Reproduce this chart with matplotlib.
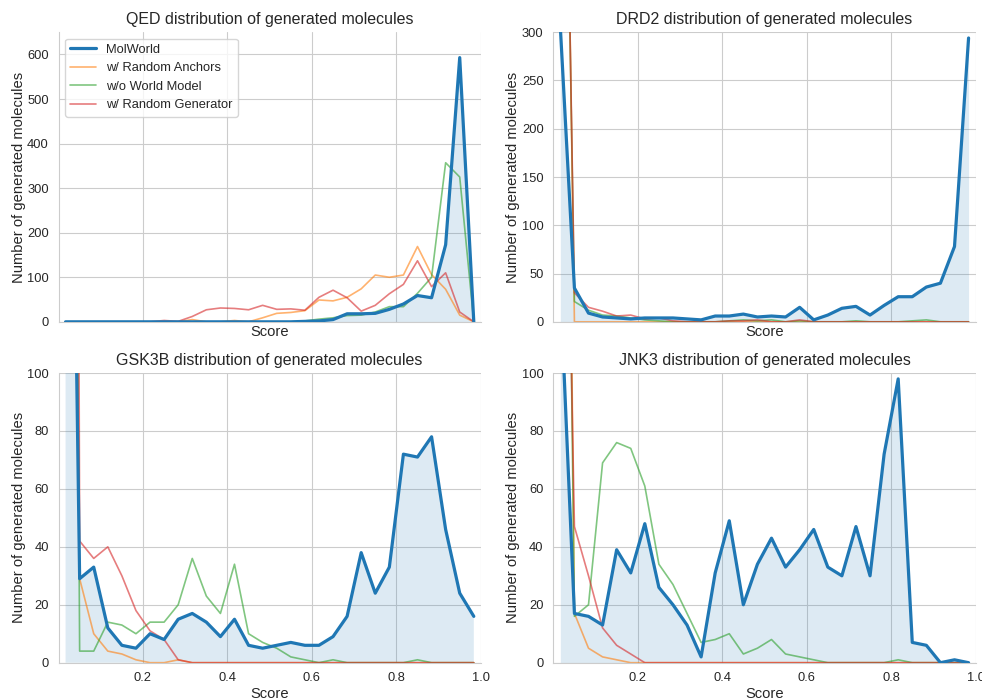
import numpy as np
import matplotlib
matplotlib.use('Agg')
import matplotlib.pyplot as plt
import seaborn as sns

sns.set_style("whitegrid")
plt.rcParams['font.family'] = ['Liberation Sans', 'DejaVu Sans']

# bin centres of the 30 score bins
scores = np.linspace(1/60, 59/60, 30)

labels = ["MolWorld", "w/ Random Anchors", "w/o World Model", "w/ Random Generator"]

# QED
qed_molworld = [0, 0, 0, 0, 0, 0, 0, 0, 0, 0, 0, 0, 0, 0, 0, 0, 0, 1, 2, 5,
                18, 18, 19, 28, 40, 59, 54, 173, 593, 0]
qed_anchors = [0, 0, 0, 0, 0, 0, 0, 0, 0, 5, 0, 0, 3, 0, 9, 19, 21, 25, 49, 47,
               55, 74, 105, 100, 105, 169, 106, 73, 15, 0]
qed_noworld = [0, 0, 0, 0, 0, 0, 0, 0, 0, 0, 0, 0, 0, 0, 0, 0, 0, 2, 6, 9,
               14, 15, 22, 34, 34, 64, 100, 357, 325, 0]
qed_randgen = [0, 0, 0, 0, 0, 0, 0, 3, 1, 12, 27, 31, 30, 27, 37, 28, 29, 26, 55, 71,
               54, 24, 37, 63, 84, 137, 79, 110, 22, 0]

# DRD2
drd2_molworld = [305, 35, 9, 5, 4, 3, 4, 4, 4, 3, 2, 6, 6, 8, 5, 6, 5, 15, 2, 7,
                 14, 16, 7, 17, 26, 26, 36, 40, 78, 294]
drd2_anchors = [970, 0, 0, 0, 0, 0, 0, 0, 0, 0, 0, 0, 0, 0, 0, 0, 0, 0, 0, 0,
                0, 0, 0, 0, 0, 0, 0, 0, 0, 0]
drd2_noworld = [900, 21, 12, 7, 6, 4, 2, 1, 0, 0, 0, 0, 1, 2, 1, 2, 0, 1, 0, 0,
                0, 1, 0, 0, 0, 1, 2, 0, 0, 0]
drd2_randgen = [900, 30, 15, 11, 6, 7, 3, 4, 1, 0, 0, 0, 1, 1, 2, 0, 0, 2, 0, 0,
                0, 0, 0, 0, 0, 0, 0, 0, 0, 0]

# GSK3B
gsk_molworld = [367, 29, 33, 12, 6, 5, 10, 8, 15, 17, 14, 9, 15, 6, 5, 6, 7, 6, 6, 9,
                16, 38, 24, 33, 72, 71, 78, 46, 24, 16]
gsk_anchors = [600, 29, 10, 4, 3, 1, 0, 0, 1, 0, 0, 0, 0, 0, 0, 0, 0, 0, 0, 0,
               0, 0, 0, 0, 0, 0, 0, 0, 0, 0]
gsk_noworld = [800, 4, 4, 14, 13, 10, 14, 14, 20, 36, 23, 17, 34, 10, 7, 5, 2, 1, 0, 1,
               0, 0, 0, 0, 0, 1, 0, 0, 0, 0]
gsk_randgen = [1490, 42, 36, 40, 30, 18, 11, 8, 1, 0, 0, 0, 0, 0, 0, 0, 0, 0, 0, 0,
               0, 0, 0, 0, 0, 0, 0, 0, 0, 0]

# JNK3
jnk_molworld = [130, 17, 16, 13, 39, 31, 48, 26, 20, 13, 2, 31, 49, 20, 34, 43, 33, 39, 46, 33,
                30, 47, 30, 72, 98, 7, 6, 0, 1, 0]
jnk_anchors = [500, 17, 5, 2, 1, 0, 0, 0, 0, 0, 0, 0, 0, 0, 0, 0, 0, 0, 0, 0,
               0, 0, 0, 0, 0, 0, 0, 0, 0, 0]
jnk_noworld = [416, 16, 20, 69, 76, 74, 61, 34, 27, 17, 7, 8, 10, 3, 5, 8, 3, 2, 1, 0,
               0, 0, 0, 0, 1, 0, 0, 0, 0, 0]
jnk_randgen = [300, 47, 30, 12, 6, 3, 0, 0, 0, 0, 0, 0, 0, 0, 0, 0, 0, 0, 0, 0,
               0, 0, 0, 0, 0, 0, 0, 0, 0, 0]

panels = [
    ("QED", [qed_molworld, qed_anchors, qed_noworld, qed_randgen], 650, 100),
    ("DRD2", [drd2_molworld, drd2_anchors, drd2_noworld, drd2_randgen], 300, 50),
    ("GSK3B", [gsk_molworld, gsk_anchors, gsk_noworld, gsk_randgen], 100, 20),
    ("JNK3", [jnk_molworld, jnk_anchors, jnk_noworld, jnk_randgen], 100, 20),
]

colors = ["tab:blue", "tab:orange", "tab:green", "tab:red"]

fig, axes = plt.subplots(2, 2, figsize=(9.82, 7.0), dpi=100, sharex=True)
fig.subplots_adjust(left=0.0596, right=0.9935, bottom=0.0533, top=0.954,
                    wspace=0.1716, hspace=0.177)

for ax, (name, series, ytop, ystep) in zip(axes.flat, panels):
    for k, vals in enumerate(series):
        if k == 0:
            ax.plot(scores, vals, color=colors[k], lw=2.3, label=labels[k], zorder=3)
            ax.fill_between(scores, 0, vals, color=colors[k], alpha=0.15, lw=0)
        else:
            ax.plot(scores, vals, color=colors[k], lw=1.2, alpha=0.6, label=labels[k])
    ax.set_xlim(0, 1)
    ax.set_ylim(0, ytop)
    ax.set_yticks(np.arange(0, ytop + 1, ystep))
    ax.set_xticks([0.2, 0.4, 0.6, 0.8, 1.0])
    ax.set_title(f"{name} distribution of generated molecules", fontsize=11.5, color='.15')
    ax.set_xlabel("Score", fontsize=10.6, color='.15', labelpad=2)
    ax.set_ylabel("Number of generated molecules", fontsize=10.6, color='.15', labelpad=1)
    ax.tick_params(labelsize=9.3, colors='.15')
    ax.spines['top'].set_visible(False)
    ax.spines['right'].set_visible(False)

axes[0, 0].legend(loc='upper left', fontsize=9.3, frameon=True)

plt.savefig("out.png", dpi=100)
